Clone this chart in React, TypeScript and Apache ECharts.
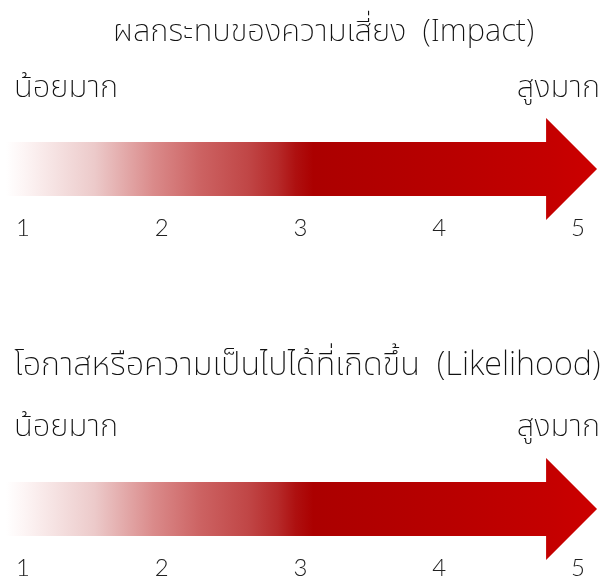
import React, { useEffect, useRef } from "react";
import * as echarts from "echarts";

const levelLabels = ["1", "2", "3", "4", "5"];
const levelValues = [1, 2, 3, 4, 5];
const titles = ["ผลกระทบของความเสี่ยง  (Impact)", "โอกาสหรือความเป็นไปได้ที่เกิดขึ้น  (Likelihood)"];
const lowLabel = "น้อยมาก";
const highLabel = "สูงมาก";
// arrow extent on the 1..5 scale: [tail, head base, tip]
const arrowExtent = [0.877, 4.77, 5.137];

const THAI_FONT = "'Noto Sans Thai', 'Noto Sans', sans-serif";
const NUM_FONT = "'Lato', 'Noto Sans', sans-serif";

const gradientStops = [
  { offset: 0, color: "#ffffff" },
  { offset: 0.03, color: "#fdf5f5" },
  { offset: 0.15, color: "#eccaca" },
  { offset: 0.25, color: "#da8a8a" },
  { offset: 0.33, color: "#cc6262" },
  { offset: 0.41, color: "#c04646" },
  { offset: 0.46, color: "#b62a2a" },
  { offset: 0.49, color: "#ae1010" },
  { offset: 0.52, color: "#ab0000" },
  { offset: 0.75, color: "#b80000" },
  { offset: 0.92, color: "#c40000" },
  { offset: 1, color: "#cc0000" },
];

export default function App() {
  const ref = useRef<HTMLDivElement>(null);
  useEffect(() => {
    if (!ref.current) return;
    const chart = echarts.init(ref.current, null, { renderer: "svg" });
    const grids = [
      { left: 23, right: 26, top: 118, height: 102 },
      { left: 23, right: 26, top: 458, height: 102 },
    ];
    const renderItem = (params: any, api: any) => {
      const cs = params.coordSys;
      const x0 = api.coord([api.value(0), 0])[0];
      const xh = api.coord([api.value(1), 0])[0];
      const x1 = api.coord([api.value(2), 0])[0];
      const cy = cs.y + cs.height / 2;
      const sh = cs.height * 0.265;
      const hh = cs.height / 2;
      return {
        type: "polygon",
        shape: {
          points: [
            [x0, cy - sh],
            [xh, cy - sh],
            [xh, cy - hh],
            [x1, cy],
            [xh, cy + hh],
            [xh, cy + sh],
            [x0, cy + sh],
          ],
        },
        style: { fill: new echarts.graphic.LinearGradient(0, 0, 1, 0, gradientStops) },
      };
    };
    const xAxes = grids.map((_, i) => ({
      type: "value",
      gridIndex: i,
      min: 1,
      max: 5,
      interval: 1,
      axisLine: { show: false },
      axisTick: { show: false },
      splitLine: { show: false },
      axisLabel: {
        margin: -6,
        fontSize: 24,
        fontFamily: NUM_FONT,
        fontWeight: 300,
        color: "#222",
        formatter: (v: number) => levelLabels[levelValues.indexOf(v)] ?? "",
      },
    }));
    const yAxes = grids.map((_, i) => ({ type: "value", gridIndex: i, min: 0, max: 1, show: false }));
    const textStyle = { fontFamily: THAI_FONT, fontSize: 31, fill: "#111", fontWeight: 200 };
    chart.setOption({
      animation: false,
      grid: grids,
      xAxis: xAxes,
      yAxis: yAxes,
      series: grids.map((_, i) => ({
        type: "custom",
        xAxisIndex: i,
        yAxisIndex: i,
        clip: false,
        renderItem,
        data: [arrowExtent],
      })),
      graphic: [
        { type: "text", left: 113, top: 16, style: { ...textStyle, text: titles[0] } },
        { type: "text", left: 14, top: 72, style: { ...textStyle, text: lowLabel } },
        { type: "text", right: 4, top: 72, style: { ...textStyle, text: highLabel } },
        { type: "text", left: 14, top: 349, style: { ...textStyle, fontSize: 32.5, text: titles[1] } },
        { type: "text", left: 14, top: 411, style: { ...textStyle, text: lowLabel } },
        { type: "text", right: 4, top: 411, style: { ...textStyle, text: highLabel } },
      ],
    });
    return () => chart.dispose();
  }, []);
  return <div ref={ref} style={{ position: "fixed", left: 0, top: 0, width: 604, height: 579 }} />;
}
